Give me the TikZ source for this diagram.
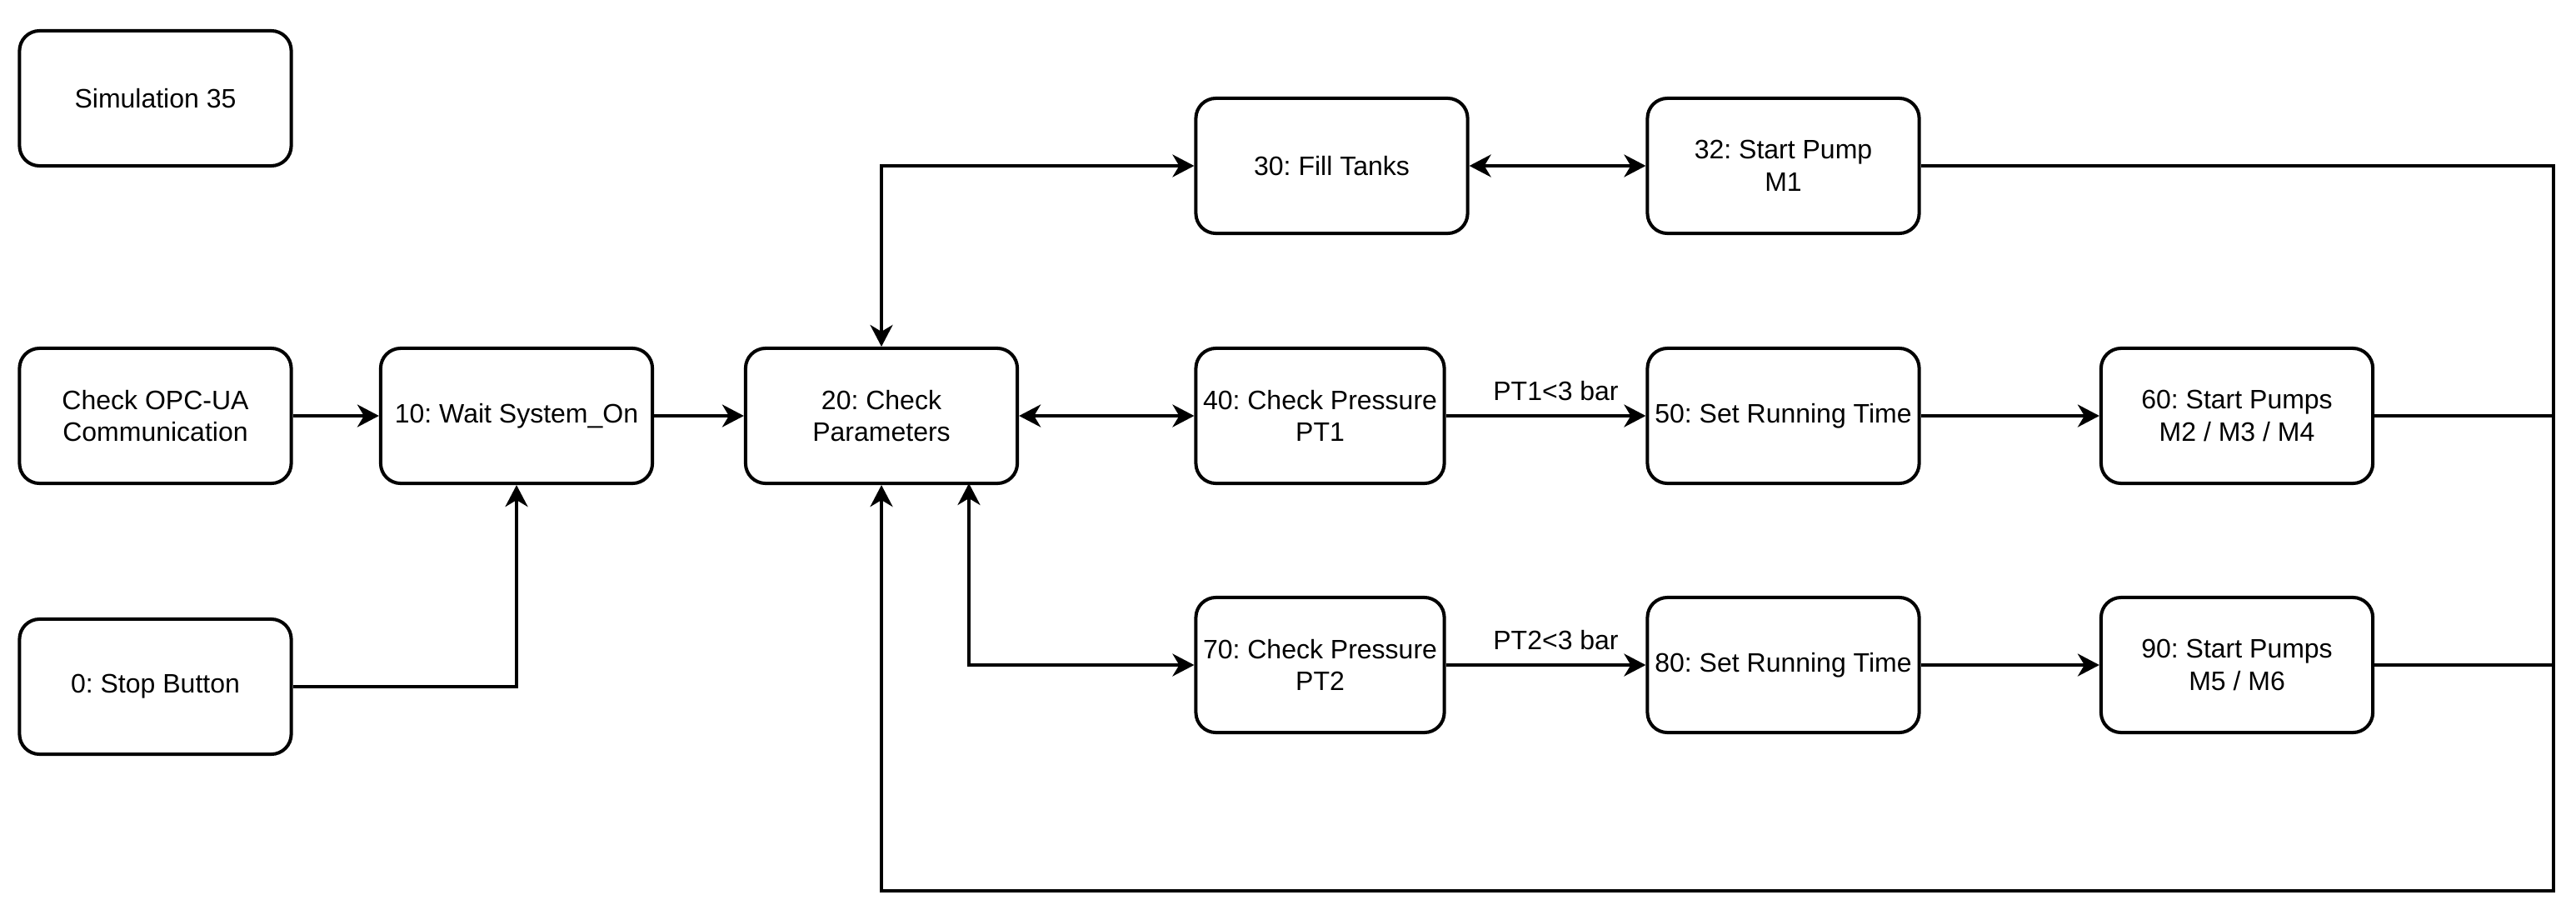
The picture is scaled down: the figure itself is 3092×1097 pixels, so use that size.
\documentclass[tikz,border=0pt]{standalone}
\usepackage{fontspec}
\setmainfont{Liberation Sans}
\usetikzlibrary{arrows.meta}
\frenchspacing
\begin{document}
\begin{tikzpicture}[x=0.01cm, y=-0.01cm,
  box/.style={draw, line width=1.15pt, rounded corners=0.24cm, minimum width=3.26cm, minimum height=1.62cm, inner sep=0pt, align=center, font=\fontsize{9.1pt}{11pt}\selectfont},
  narrow/.style={box, minimum width=2.98cm},
  tip/.tip={Stealth[length=0.26cm, width=0.27cm, inset=0.08cm]},
  conn/.style={line width=1.0pt, -tip},
  bconn/.style={line width=1.0pt, tip-tip},
  plain/.style={line width=1.0pt},
  lbl/.style={anchor=base, inner sep=0pt, font=\fontsize{9.1pt}{11pt}\selectfont}
]
\useasboundingbox (0,0) rectangle (3092,1097);

\node[box] (sim) at (186.5,118) {Simulation 35};
\node[box] (opc) at (186.5,499) {Check OPC-UA\\Communication};
\node[box] (stop) at (186.5,824) {0: Stop Button};
\node[box] (s10) at (620,499) {10: Wait System\_On};
\node[box] (s20) at (1058,499) {20: Check\\Parameters};
\node[box] (s30) at (1598.5,199) {30: Fill Tanks};
\node[box] (s32) at (2140.5,199) {32: Start Pump\\M1};
\node[narrow] (s40) at (1584.5,499) {40: Check Pressure\\PT1};
\node[box] (s50) at (2140.5,499) {50: Set Running Time};
\node[box] (s60) at (2685,499) {60: Start Pumps\\M2 / M3 / M4};
\node[narrow] (s70) at (1584.5,798) {70: Check Pressure\\PT2};
\node[box] (s80) at (2140.5,798) {80: Set Running Time};
\node[box] (s90) at (2685,798) {90: Start Pumps\\M5 / M6};

\coordinate (rbot) at (3065,1069);
\coordinate (s20b) at (1163,580);

\draw[conn] (opc) -- (s10);
\draw[conn] (s10) -- (s20);
\draw[conn] (stop.east) -| (s10.south);
\draw[bconn] (s20) -- (s40);
\draw[conn] (s40) -- node[lbl, yshift=0.18cm, xshift=0.12cm] {PT1<3 bar} (s50);
\draw[conn] (s50) -- (s60);
\draw[conn] (s70) -- node[lbl, yshift=0.18cm, xshift=0.12cm] {PT2<3 bar} (s80);
\draw[conn] (s80) -- (s90);
\draw[bconn] (s30) -- (s32);
\draw[bconn] (s20.north) |- (s30.west);
\draw[bconn] (s20b) |- (s70.west);
\draw[conn] (s32.east) -| (rbot) -| (s20.south);
\draw[plain] (s60.east) -- (s60.east -| rbot);
\draw[plain] (s90.east) -- (s90.east -| rbot);
\end{tikzpicture}
\end{document}
